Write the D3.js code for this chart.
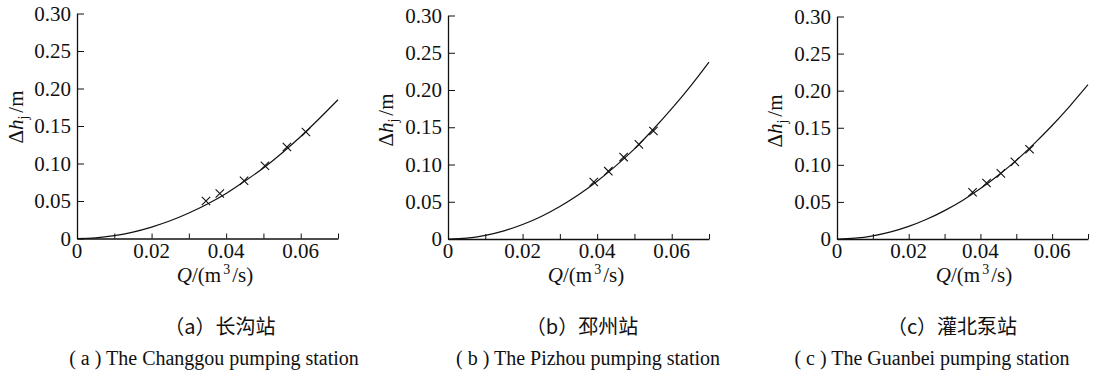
<!DOCTYPE html>
<html><head><meta charset="utf-8">
<script src="https://cdn.jsdelivr.net/npm/d3@7/dist/d3.min.js"></script>
<style>
body{margin:0;background:#fff;}
svg{display:block;}
</style></head>
<body><svg id="c" width="1101" height="375"></svg>
<script>
// ---- data ----
const xTicks = [0, 0.02, 0.04, 0.06];
const xMinorTicks = [0, 0.01, 0.02, 0.03, 0.04, 0.05, 0.06, 0.07];
const yTicks = [0, 0.05, 0.10, 0.15, 0.20, 0.25, 0.30];
const yTickLabels = ["0", "0.05", "0.10", "0.15", "0.20", "0.25", "0.30"];

const curveQ = [0, 0.005, 0.01, 0.015, 0.02, 0.025, 0.03, 0.035, 0.04, 0.045, 0.05, 0.055, 0.06, 0.065, 0.07];
const curveA = [0, 0.0009, 0.0038, 0.0085, 0.0152, 0.0236, 0.034, 0.046, 0.060, 0.0765, 0.094, 0.114, 0.136, 0.160, 0.185];
const curveB = [0, 0.0012, 0.0049, 0.011, 0.0194, 0.0303, 0.0437, 0.0594, 0.0776, 0.0982, 0.121, 0.147, 0.175, 0.205, 0.2375];
const curveC = [0, 0.0011, 0.0043, 0.0096, 0.017, 0.0266, 0.0383, 0.052, 0.068, 0.086, 0.106, 0.1286, 0.153, 0.1796, 0.208];

const qA = [0.0346, 0.0383, 0.0448, 0.0504, 0.0563, 0.0614];
const hA = [0.050, 0.060, 0.077, 0.097, 0.122, 0.142];
const qB = [0.0391, 0.0430, 0.0471, 0.0512, 0.0551];
const hB = [0.0765, 0.091, 0.110, 0.127, 0.145];
const qC = [0.0378, 0.0417, 0.0457, 0.0496, 0.0537];
const hC = [0.063, 0.0755, 0.0885, 0.104, 0.121];

const captionsCN = ["长沟站", "邳州站", "灌北泵站"];
const captionsEN = ["The Changgou pumping station", "The Pizhou pumping station", "The Guanbei pumping station"];
const letters = ["a", "b", "c"];

// ---- layout ----
const panels = [
  {x0: 77,  x1: 338,  yT: 13.5, yB: 238.5, curve: curveA, q: qA, h: hA, ytx: 23,  yty: 117, xtx: 215, cnx: 220, enx: 214},
  {x0: 448, x1: 709,  yT: 15.5, yB: 239,   curve: curveB, q: qB, h: hB, ytx: 393, yty: 120, xtx: 586, cnx: 582, enx: 588},
  {x0: 837, x1: 1088, yT: 16.5, yB: 239,   curve: curveC, q: qC, h: hC, ytx: 782, yty: 121, xtx: 974, cnx: 952, enx: 932}
];

const svg = d3.select("#c");
const ink = "#111";
const serif = "'Liberation Serif', 'Times New Roman', serif";
const cjk = "'Noto Sans CJK SC', 'Noto Sans CJK JP', sans-serif";

panels.forEach((p, i) => {
  const x = d3.scaleLinear().domain([0, 0.07]).range([p.x0, p.x1]);
  const y = d3.scaleLinear().domain([0, 0.30]).range([p.yB, p.yT]);
  const g = svg.append("g");

  // axes
  const xAxis = d3.axisBottom(x).tickValues(xMinorTicks).tickSizeInner(-5).tickSizeOuter(0).tickFormat("");
  const gx = g.append("g").attr("transform", `translate(0,${p.yB})`).call(xAxis);
  const yAxis = d3.axisLeft(y).tickValues(yTicks).tickSizeInner(-7).tickSizeOuter(0).tickFormat("");
  const gy = g.append("g").attr("transform", `translate(${p.x0},0)`).call(yAxis);
  [gx, gy].forEach(a => {
    a.selectAll("path.domain").attr("stroke", ink).attr("stroke-width", 1.3);
    a.selectAll(".tick line").attr("stroke", ink).attr("stroke-width", 1);
  });

  // tick labels
  g.selectAll(".yl").data(yTicks).enter().append("text")
    .attr("x", p.x0 - 6).attr("y", d => y(d) + 7)
    .attr("text-anchor", "end")
    .style("font-family", serif).style("font-size", "21px").attr("fill", ink)
    .text((d, j) => yTickLabels[j]);
  g.selectAll(".xl").data(xTicks).enter().append("text")
    .attr("x", d => x(d)).attr("y", p.yB + 19)
    .attr("text-anchor", "middle")
    .style("font-family", serif).style("font-size", "21px").attr("fill", ink)
    .text(d => d === 0 ? "0" : d3.format(".2f")(d));

  // axis titles
  const xt = g.append("text").attr("x", p.xtx).attr("y", 282).attr("text-anchor", "middle")
    .style("font-family", serif).style("font-size", "21px").attr("fill", ink);
  xt.append("tspan").style("font-style", "italic").text("Q");
  xt.append("tspan").text("/(m");
  xt.append("tspan").attr("dy", -8).attr("dx", 2).style("font-size", "14px").text("3");
  xt.append("tspan").attr("dy", 8).attr("dx", 2).text("/s)");

  const yt = g.append("text").attr("transform", `translate(${p.ytx},${p.yty}) rotate(-90)`)
    .attr("text-anchor", "middle").style("font-family", serif).style("font-size", "21px").attr("fill", ink);
  yt.append("tspan").text("Δ");
  yt.append("tspan").style("font-style", "italic").text("h");
  yt.append("tspan").attr("dy", 5).style("font-size", "14px").text("j");
  yt.append("tspan").attr("dy", -5).attr("dx", 3).text("/m");

  // curve
  const line = d3.line().x((d, j) => x(curveQ[j])).y(d => y(d)).curve(d3.curveMonotoneX);
  g.append("path").datum(p.curve).attr("d", line).attr("fill", "none")
    .attr("stroke", ink).attr("stroke-width", 1.2);

  // markers (x)
  const s = 4.2;
  p.q.forEach((q, j) => {
    const cx = x(q), cy = y(p.h[j]);
    g.append("path").attr("d", `M${cx - s},${cy - s}L${cx + s},${cy + s}M${cx - s},${cy + s}L${cx + s},${cy - s}`)
      .attr("stroke", ink).attr("stroke-width", 1.1).attr("fill", "none");
  });

  // captions
  const c1 = g.append("text").attr("x", p.cnx).attr("y", 334).attr("text-anchor", "middle")
    .style("font-family", cjk).style("font-size", "20px").attr("fill", ink);
  c1.text(`（${letters[i]}）${captionsCN[i]}`);
  const c2 = g.append("text").attr("x", p.enx).attr("y", 365).attr("text-anchor", "middle")
    .style("font-family", serif).style("font-size", "20px").attr("fill", ink);
  c2.append("tspan").text(`( ${letters[i]} ) `);
  c2.append("tspan").text(captionsEN[i]);
});
</script></body></html>
